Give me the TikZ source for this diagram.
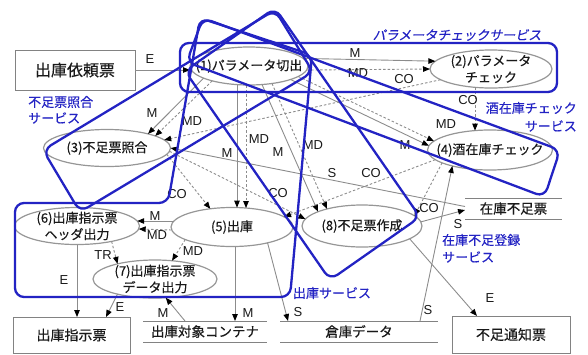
\documentclass[tikz,border=0pt]{standalone}
\usepackage{fontspec}
\setmainfont{Liberation Sans}
\newfontfamily\jp{Noto Sans CJK JP}[FakeBold=0.4]
\newfontfamily\jpsl{Noto Sans CJK JP}[FakeSlant=0.2,FakeBold=0.4]
\usetikzlibrary{shapes.geometric,arrows.meta,calc}
\definecolor{svcblue}{RGB}{35,35,195}
\definecolor{ellgray}{RGB}{150,150,150}
\definecolor{boxgray}{RGB}{130,130,130}
\definecolor{lngray}{RGB}{140,140,140}
\definecolor{txt}{RGB}{25,25,25}
\tikzset{
  ell/.style={ellipse, draw=ellgray, line width=1.2pt, inner sep=0pt, outer sep=0pt},
  jtxt/.style={font=\jp\fontsize{13}{16.5}\selectfont, text=txt, inner sep=0pt, align=center},
  box/.style={rectangle, draw=boxgray, line width=1pt, inner sep=0pt, outer sep=0pt},
  store/.style={rectangle, inner sep=0pt, outer sep=0pt, minimum height=21pt},
  dsline/.style={draw=boxgray, line width=1pt},
  conn/.style={draw=lngray, line width=0.9pt, -{Triangle[length=7pt,width=5.5pt,color=black]}},
  dconn/.style={conn, dash pattern=on 2.5pt off 2pt},
  plainln/.style={draw=lngray, line width=0.9pt},
  lab/.style={font=\fontsize{13}{15}\selectfont, text=txt, inner sep=0pt},
  svc/.style={draw=svcblue, line width=2.3pt, rounded corners=9pt},
  svclab/.style={font=\jp\fontsize{13}{16}\selectfont, text=svcblue, inner sep=0pt}
}
\begin{document}
\begin{tikzpicture}[x=1pt,y=-1pt]
\useasboundingbox (0,0) rectangle (588,354);

% process ellipses
\node[ell, minimum width=118pt, minimum height=38pt] (n1) at (249,66) {};
\node[ell, minimum width=122pt, minimum height=38pt] (n2) at (491,69) {};
\node[ell, minimum width=127pt, minimum height=37pt] (n3) at (107,148) {};
\node[ell, minimum width=125pt, minimum height=40pt] (n4) at (490,150) {};
\node[ell, minimum width=122pt, minimum height=39pt] (n5) at (232,227) {};
\node[ell, minimum width=125pt, minimum height=37pt] (n6) at (77,226) {};
\node[ell, minimum width=124pt, minimum height=38pt] (n7) at (155,279) {};
\node[ell, minimum width=120pt, minimum height=42pt] (n8) at (362,226) {};
\node[jtxt] (t1) at (n1) {(1)パラメータ切出};
\node[jtxt] (t2) at (n2) {(2)パラメータ\\チェック};
\node[jtxt] (t3) at (n3) {(3)不足票照合};
\node[jtxt] (t4) at (n4) {(4)酒在庫チェック};
\node[jtxt] (t5) at (n5) {(5)出庫};
\node[jtxt] (t6) at (n6) {(6)出庫指示票\\ヘッダ出力};
\node[jtxt] (t7) at (n7) {(7)出庫指示票\\データ出力};
\node[jtxt] (t8) at (n8) {(8)不足票作成};

% external entities
\node[box, minimum width=120pt, minimum height=40pt, font=\jp\fontsize{16}{18}\selectfont, text=txt] (r1) at (75,70) {出庫依頼票};
\node[box, minimum width=117pt, minimum height=36pt, font=\jp\fontsize{14}{16}\selectfont, text=txt] (r2) at (71.5,335) {出庫指示票};
\node[box, minimum width=118pt, minimum height=37pt, font=\jp\fontsize{14}{16}\selectfont, text=txt] (r3) at (511,334.5) {不足通知票};

% data stores
\node[store, minimum width=124pt, font=\jp\fontsize{13.5}{16}\selectfont, text=txt] (d1) at (205,331.5) {出庫対象コンテナ};
\node[store, minimum width=158pt, font=\jp\fontsize{13.5}{16}\selectfont, text=txt] (d2) at (359,331.5) {倉庫データ};
\node[store, minimum width=97pt, font=\jp\fontsize{13.5}{16}\selectfont, text=txt] (d3) at (513.5,208.5) {在庫不足票};
\foreach \d in {d1,d2,d3}{
  \draw[dsline] (\d.north west) -- (\d.north east) (\d.south west) -- (\d.south east);
}

% connectors
\draw[conn] (r1.east) -- (r1.east -| n1.west);
\draw[conn] (n1.8) -- (n2.172);
\draw[dconn] (n1.356) -- (n2.west);
\draw[dconn] (n2.192) -- (n3.8);
\draw[dconn] ($(n2.south)+(-16,-0.7)$) -- ($(n4.north)+(-15,0.6)$);
\draw[conn] (n1.195) -- (n3.19);
\draw[dconn] (n1.202) -- (n3.14);
\draw[conn] (n1.342) -- (n4.176);
\draw[dconn] (n1.348) -- (n4.171);
\draw[conn] ($(n1.south)+(-12,-0.4)$) -- ($(n5.north)+(5,0.1)$);
\draw[dconn] ($(n1.south)+(-3,0)$) -- ($(n5.north)+(14,0.5)$);
\draw[conn] ($(n1.south)+(13,-0.5)$) -- (n8.162);
\draw[dconn] ($(n1.south)+(23,-1.5)$) -- (n8.154);
\draw[conn] ($(d3.west)+(0,-2)$) -- (n3.east);
\draw[conn] (n8.4) -- ($(d3.west)+(0,1.5)$);
\draw[dconn] (n3.354) -- (n5.140);
\draw[dconn] (n3.357) -- (n8.173);
\draw[dconn] (n4.190) -- (n5.11);
\draw[dconn] (n4.195) -- (n8.11);
\draw[conn] ($(n5.west)+(3,-6)$) -- ($(n6.east)+(-2.3,-5)$);
\draw[dconn] ($(n5.west)+(0.7,3)$) -- ($(n6.east)+(-0.8,3)$);
\draw[dconn] (n5.195) -- (n7.47);
\draw[dconn] (n6.336) -- (n7.158);
\draw[conn] (n6.south) -- (n6.south |- r2.north);
\draw[conn] (n7.202) -- ($(r2.north)+(34.5,0)$);
\draw[conn] ($(d1.north)+(-20,0)$) -- (n7.300);
\coordinate (p5s) at ($(n5.south)+(3,0)$);
\draw[conn] (p5s) -- (p5s |- d1.north);
\draw[conn] (n5.336) -- ($(d2.north west)+(8,0)$);
\draw[conn] ($(d2.north east)+(-18,0)$) -- (n4.203);
\draw[conn] (n8.345) -- ($(r3.north)+(-34,0)$);

% connector labels
\node[lab] (l01) at (150,59) {E};
\node[lab] (l02) at (355,53) {M};
\node[lab] (l03) at (358,73) {MD};
\node[lab] (l04) at (404,79) {CO};
\node[lab] (l05) at (468,100) {CO};
\node[lab] (l06) at (446,124) {MD};
\node[lab] (l07) at (405,145) {M};
\node[lab] (l08) at (152,113) {M};
\node[lab] (l09) at (192,121) {MD};
\node[lab] (l10) at (259,139) {MD};
\node[lab] (l11) at (227,153) {M};
\node[lab] (l12) at (313,145) {MD};
\node[lab] (l13) at (278,152) {M};
\node[lab] (l14) at (332,173) {S};
\node[lab] (l15) at (371,173) {CO};
\node[lab] (l16) at (177,194) {CO};
\node[lab] (l17) at (278,193) {CO};
\node[lab] (l18) at (429,208) {CO};
\node[lab] (l19) at (458,224) {S};
\node[lab] (l20) at (155,216) {M};
\node[lab] (l21) at (157,235) {MD};
\node[lab] (l22) at (193,251) {MD};
\node[lab] (l23) at (103,255) {TR};
\node[lab] (l24) at (64,280) {E};
\node[lab] (l25) at (120,307) {E};
\node[lab] (l26) at (163,313) {M};
\node[lab] (l27) at (248,313) {M};
\node[lab] (l28) at (298,312) {S};
\node[lab] (l29) at (428,310) {S};
\node[lab] (l30) at (490,298) {E};

% service boundaries
\draw[svc] (180,43) rectangle (557,92);
\draw[svc] (43,150) -- (275,10) -- (313,72) -- (80,212) -- cycle;
\draw[svc] (203,18) -- (560,150) -- (544.5,197) -- (186.7,62) -- cycle;
\draw[svc] (275,8) -- (420,217) -- (330,280) -- (185,71) -- cycle;
\draw[svc] (200,18) -- (312,55) -- (290,297) -- (15,297) -- (15,203) -- (168,203) -- cycle;

% service labels
\node[svclab, font=\jpsl\fontsize{13}{16}\selectfont] (s1) at (457,35) {パラメータチェックサービス};
\node[svclab, anchor=east] (s2a) at (577,108) {酒在庫チェック};
\node[svclab, anchor=east] (s2b) at (577,126) {サービス};
\node[svclab, anchor=west] (s3a) at (28,102) {不足票照合};
\node[svclab, anchor=west] (s3b) at (28,118) {サービス};
\node[svclab] (s4) at (332,293) {出庫サービス};
\node[svclab, anchor=west] (s5a) at (442,240) {在庫不足登録};
\node[svclab, anchor=west] (s5b) at (442,257) {サービス};
\end{tikzpicture}
\end{document}
